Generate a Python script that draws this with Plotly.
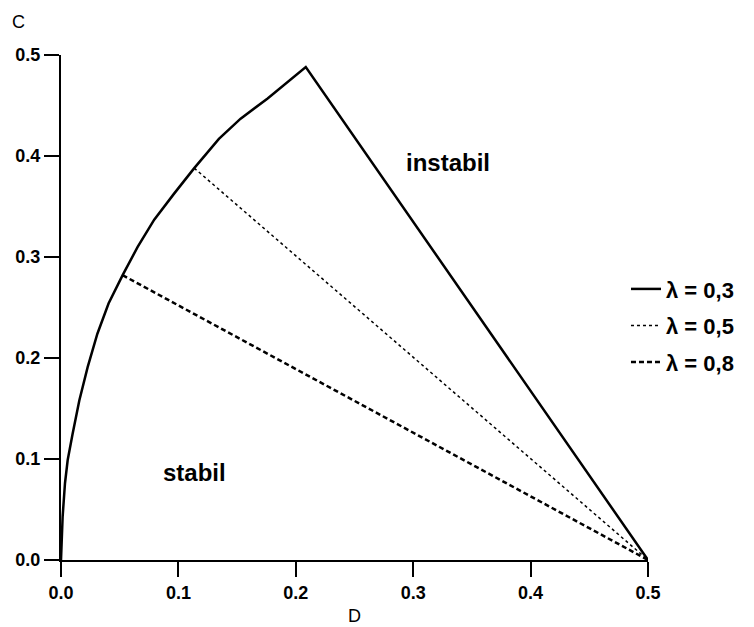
import plotly.graph_objects as go

# Stability boundary (lambda = 0.3): curved part then straight to (0.5, 0)
D_l03 = [0.0, 0.0014, 0.0034, 0.0057, 0.0099, 0.0156, 0.0227, 0.031, 0.0405, 0.0525,
         0.0653, 0.0794, 0.0965, 0.1135, 0.1345, 0.153, 0.176, 0.193, 0.2085, 0.5]
C_l03 = [0.0, 0.043, 0.076, 0.099, 0.125, 0.158, 0.191, 0.224, 0.254, 0.282,
         0.310, 0.337, 0.363, 0.388, 0.417, 0.437, 0.457, 0.473, 0.488, 0.0]
D_l05 = [0.1135, 0.5]
C_l05 = [0.388, 0.0]
D_l08 = [0.0525, 0.5]
C_l08 = [0.282, 0.0]

tick_vals = [0.0, 0.1, 0.2, 0.3, 0.4, 0.5]
tick_text = ["0.0", "0.1", "0.2", "0.3", "0.4", "0.5"]
legend_names = ["λ = 0,3", "λ = 0,5", "λ = 0,8"]

FONT = "Liberation Sans, Arial, Helvetica, sans-serif"

fig = go.Figure()
fig.add_trace(go.Scatter(x=D_l03, y=C_l03, mode="lines", name=legend_names[0],
                         legendgroup="a", line=dict(color="black", width=2.5)))
fig.add_trace(go.Scatter(x=D_l05, y=C_l05, mode="lines", name=legend_names[1],
                         legendgroup="b", line=dict(color="black", width=1.5, dash="dot")))
fig.add_trace(go.Scatter(x=D_l08, y=C_l08, mode="lines", name=legend_names[2],
                         legendgroup="c", line=dict(color="black", width=2.5, dash="5px,3px")))

axis_common = dict(
    showline=True, linecolor="black", linewidth=2,
    ticks="outside", ticklen=15, tickwidth=2, tickcolor="black",
    showgrid=False, zeroline=False, automargin=False,
    tickvals=tick_vals, ticktext=tick_text,
    tickfont=dict(family=FONT, size=18, color="black", weight="bold"),
)

fig.update_layout(
    width=754, height=627,
    margin=dict(l=61, r=106, t=55, b=67, autoexpand=False),
    paper_bgcolor="white", plot_bgcolor="white",
    xaxis=dict(range=[0, 0.5], **axis_common),
    yaxis=dict(range=[0, 0.5], **axis_common),
    showlegend=True,
    legend=dict(x=0.9625, y=0.578, xanchor="left", yanchor="top",
                font=dict(family=FONT, size=22, color="black", weight="bold"),
                tracegroupgap=5, bgcolor="rgba(0,0,0,0)"),
    annotations=[
        dict(text="instabil", x=0.330, y=0.394, xref="x", yref="y", showarrow=False,
             xanchor="center", yanchor="middle",
             font=dict(family=FONT, size=24, color="black", weight="bold")),
        dict(text="stabil", x=0.114, y=0.087, xref="x", yref="y", showarrow=False,
             xanchor="center", yanchor="middle",
             font=dict(family=FONT, size=24, color="black", weight="bold")),
        dict(text="C", x=-0.0716, y=1.066, xref="paper", yref="paper", showarrow=False,
             xanchor="center", yanchor="middle",
             font=dict(family=FONT, size=18, color="black")),
        dict(text="D", x=0.5, y=-0.111, xref="paper", yref="paper", showarrow=False,
             xanchor="center", yanchor="middle",
             font=dict(family=FONT, size=18, color="black")),
    ],
)

fig.write_html("out.html", config={"displayModeBar": False},
               post_script="document.body.style.margin='0px';")
